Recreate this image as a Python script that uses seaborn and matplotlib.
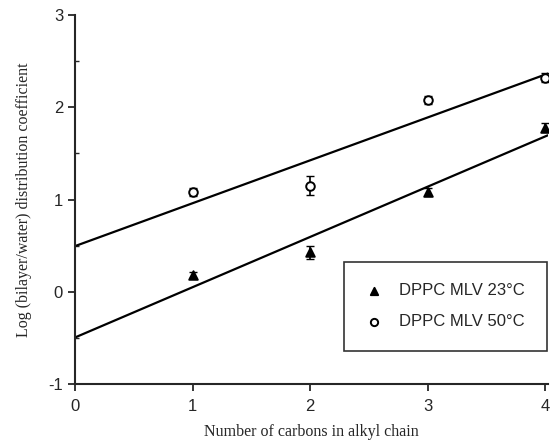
import numpy as np
import pandas as pd
import matplotlib
matplotlib.use("Agg")
import matplotlib.pyplot as plt
import seaborn as sns

carbons = [1, 2, 3, 4]
logk_23 = [0.18, 0.43, 1.08, 1.78]
err_23 = [0.03, 0.07, 0.04, 0.05]
logk_50 = [1.08, 1.15, 2.08, 2.32]
err_50 = [0.04, 0.10, 0.04, 0.05]
labels = ["DPPC MLV 23°C", "DPPC MLV 50°C"]

df = pd.DataFrame({
    "carbons": carbons * 2,
    "logk": logk_23 + logk_50,
    "err": err_23 + err_50,
    "series": [labels[0]] * 4 + [labels[1]] * 4,
})

sns.set_style("ticks")
plt.rcParams["font.family"] = ["Liberation Sans", "DejaVu Sans"]
plt.rcParams["axes.unicode_minus"] = False

fig = plt.figure(figsize=(5.55, 4.4), dpi=100)
ax = fig.add_axes([0.135, 0.127, 0.852, 0.839])
ax.set_xlim(0, 4.02)
ax.set_ylim(-1, 3)

# regression lines across the full x range
for lab in labels:
    sub = df[df["series"] == lab]
    sns.regplot(data=sub, x="carbons", y="logk", scatter=False, ci=None,
                truncate=False, color="black", line_kws={"lw": 1.6}, ax=ax)
ax.set_xlim(0, 4.02)

markers = {labels[0]: "^", labels[1]: "o"}
faces = {labels[0]: "black", labels[1]: "white"}
for lab in labels:
    sub = df[df["series"] == lab]
    ax.errorbar(sub["carbons"], sub["logk"], yerr=sub["err"], fmt="none",
                ecolor="black", elinewidth=1.2, capsize=3, zorder=3)
    sns.scatterplot(data=sub, x="carbons", y="logk", marker=markers[lab],
                    color=faces[lab], edgecolor="black", linewidth=1.4,
                    s=38, label=lab, zorder=4, ax=ax)

ax.set_xticks([0, 1, 2, 3, 4])
ax.set_yticks([-1, 0, 1, 2, 3])
ax.set_yticks(np.arange(-1, 3.01, 0.5), minor=True)
ax.tick_params(axis="both", labelsize=12, width=1.3, length=5, direction="out")
ax.tick_params(axis="y", which="minor", length=3, width=1, direction="in")
ax.tick_params(axis="x", pad=6)
for s in ["left", "bottom"]:
    ax.spines[s].set_linewidth(1.5)
sns.despine(ax=ax)

ax.set_xlabel("Number of carbons in alkyl chain", family=["Liberation Serif"],
              fontsize=11.5, labelpad=7)
ax.set_ylabel("Log (bilayer/water) distribution coefficient",
              family=["Liberation Serif"], fontsize=11.5, labelpad=12)

leg = ax.legend(loc="lower right", bbox_to_anchor=(0.998, 0.09), frameon=True,
                fancybox=False, edgecolor="black", fontsize=12,
                borderpad=1.3, labelspacing=0.95, handletextpad=1.0,
                handlelength=1.0, markerscale=0.85, borderaxespad=0)
leg.get_frame().set_linewidth(1.2)

fig.savefig("out.png", dpi=100)
